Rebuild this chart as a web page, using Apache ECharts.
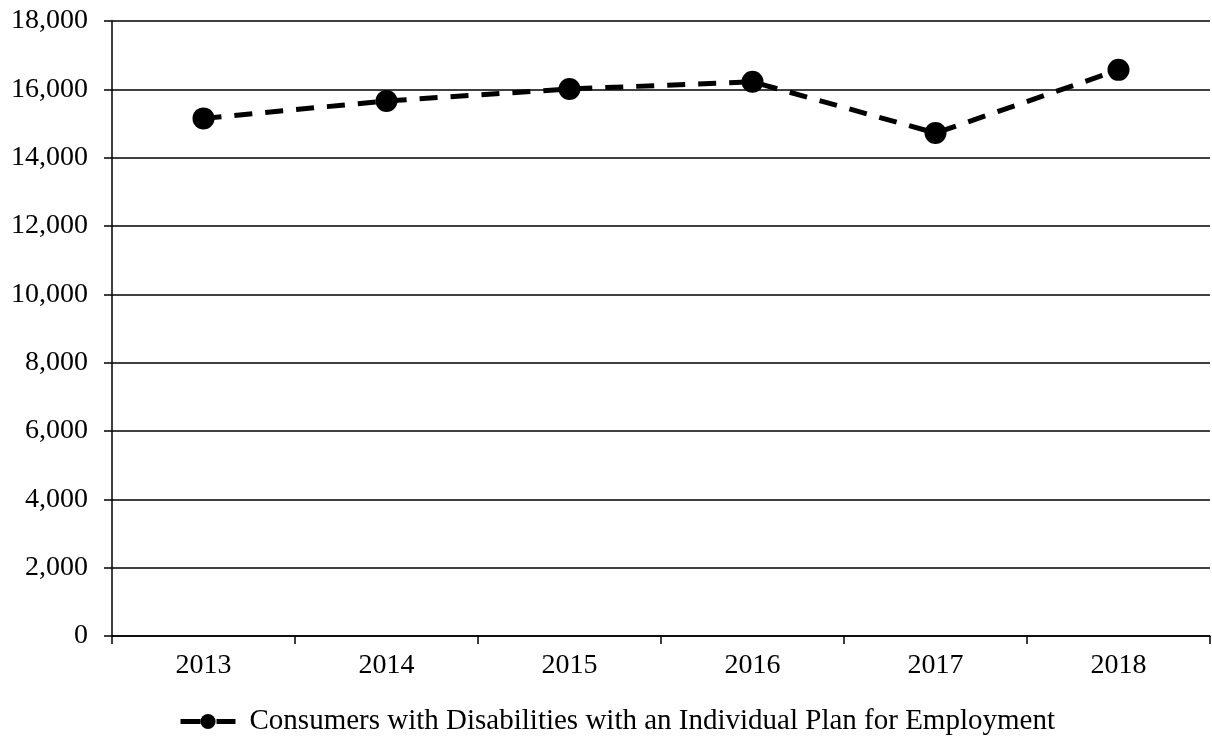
<!DOCTYPE html>
<html>
<head>
<meta charset="utf-8">
<script src="https://cdn.jsdelivr.net/npm/echarts@6/dist/echarts.min.js"></script>
<style>
  html, body { margin: 0; padding: 0; background: #fff; }
  #chart { width: 1212px; height: 752px; }
</style>
</head>
<body>
<div id="chart"></div>
<script>
var years = ['2013', '2014', '2015', '2016', '2017', '2018'];
var consumers = [15150, 15660, 16010, 16220, 14720, 16570];
var seriesName = 'Consumers with Disabilities with an Individual Plan for Employment';

var chart = echarts.init(document.getElementById('chart'), null, { renderer: 'canvas' });
var font = '"Liberation Serif", "Times New Roman", serif';

chart.setOption({
  backgroundColor: '#ffffff',
  animation: false,
  textStyle: { fontFamily: font },
  grid: { left: 112, right: 2, top: 21, bottom: 116 },
  legend: {
    bottom: 11,
    left: 173,
    itemWidth: 55,
    itemHeight: 19,
    itemGap: 10,
    lineStyle: { type: [20, 16], width: 5 },
    textStyle: { fontFamily: font, fontSize: 29, color: '#000', padding: [0, 0, 0, 9] },
    data: [seriesName]
  },
  xAxis: {
    type: 'category',
    data: years,
    boundaryGap: true,
    axisLine: { lineStyle: { color: '#000', width: 1.5 } },
    axisTick: { show: true, length: 8, alignWithLabel: false, lineStyle: { color: '#000', width: 1.5 } },
    axisLabel: { fontFamily: font, fontSize: 28, color: '#000', margin: 16 }
  },
  yAxis: {
    type: 'value',
    min: 0,
    max: 18000,
    interval: 2000,
    axisLine: { show: true, lineStyle: { color: '#000', width: 1.5 } },
    axisTick: { show: true, length: 8, lineStyle: { color: '#000', width: 1.5 } },
    splitLine: { lineStyle: { color: '#000', width: 1.5 } },
    axisLabel: {
      fontFamily: font, fontSize: 28, color: '#000', margin: 24,
      formatter: function (v) { return v.toLocaleString('en-US'); }
    }
  },
  series: [{
    name: seriesName,
    type: 'line',
    data: consumers,
    symbol: 'circle',
    symbolSize: 22,
    itemStyle: { color: '#000' },
    lineStyle: { color: '#000', width: 5, type: [18, 13] }
  }]
});
</script>
</body>
</html>
